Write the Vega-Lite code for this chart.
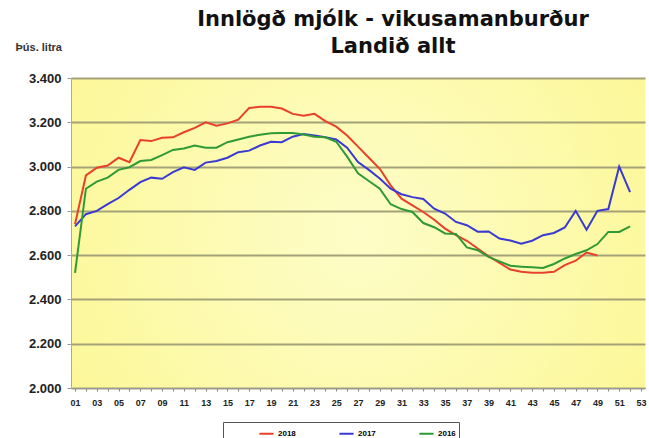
{
  "$schema": "https://vega.github.io/schema/vega-lite/v6.json",
  "width": 574,
  "height": 310,
  "autosize": {"type": "none"},
  "padding": {"left": 71, "top": 78, "right": 4, "bottom": 50},
  "background": "white",
  "title": {
    "text": ["Innlögð mjólk - vikusamanburður", "Landið allt"],
    "font": "DejaVu Sans",
    "fontSize": 21,
    "fontWeight": "bold",
    "color": "#111",
    "anchor": "middle",
    "dx": 35,
    "dy": 34,
    "offset": 18,
    "lineHeight": 27
  },
  "config": {
    "view": {
      "stroke": null,
      "fill": {
        "gradient": "radial",
        "x1": 0.5, "y1": 0.5, "x2": 0.5, "y2": 0.5, "r1": 0, "r2": 0.75,
        "stops": [{"offset": 0, "color": "#FEFDC8"}, {"offset": 1, "color": "#FBF68A"}]
      }
    }
  },
  "data": {
    "values": [
      {"w":1,"yr":"2018","v":2740},{"w":2,"yr":"2018","v":2960},{"w":3,"yr":"2018","v":2995},{"w":4,"yr":"2018","v":3005},{"w":5,"yr":"2018","v":3040},{"w":6,"yr":"2018","v":3020},{"w":7,"yr":"2018","v":3120},{"w":8,"yr":"2018","v":3115},{"w":9,"yr":"2018","v":3130},{"w":10,"yr":"2018","v":3132},
      {"w":11,"yr":"2018","v":3155},{"w":12,"yr":"2018","v":3175},{"w":13,"yr":"2018","v":3200},{"w":14,"yr":"2018","v":3185},{"w":15,"yr":"2018","v":3195},{"w":16,"yr":"2018","v":3212},{"w":17,"yr":"2018","v":3265},{"w":18,"yr":"2018","v":3270},{"w":19,"yr":"2018","v":3270},{"w":20,"yr":"2018","v":3262},
      {"w":21,"yr":"2018","v":3238},{"w":22,"yr":"2018","v":3230},{"w":23,"yr":"2018","v":3238},{"w":24,"yr":"2018","v":3205},{"w":25,"yr":"2018","v":3180},{"w":26,"yr":"2018","v":3140},{"w":27,"yr":"2018","v":3090},{"w":28,"yr":"2018","v":3040},{"w":29,"yr":"2018","v":2990},{"w":30,"yr":"2018","v":2915},
      {"w":31,"yr":"2018","v":2855},{"w":32,"yr":"2018","v":2825},{"w":33,"yr":"2018","v":2795},{"w":34,"yr":"2018","v":2760},{"w":35,"yr":"2018","v":2720},{"w":36,"yr":"2018","v":2690},{"w":37,"yr":"2018","v":2665},{"w":38,"yr":"2018","v":2630},{"w":39,"yr":"2018","v":2595},{"w":40,"yr":"2018","v":2565},
      {"w":41,"yr":"2018","v":2535},{"w":42,"yr":"2018","v":2525},{"w":43,"yr":"2018","v":2520},{"w":44,"yr":"2018","v":2520},{"w":45,"yr":"2018","v":2525},{"w":46,"yr":"2018","v":2555},{"w":47,"yr":"2018","v":2575},{"w":48,"yr":"2018","v":2612},{"w":49,"yr":"2018","v":2598},

      {"w":1,"yr":"2017","v":2730},{"w":2,"yr":"2017","v":2785},{"w":3,"yr":"2017","v":2800},{"w":4,"yr":"2017","v":2830},{"w":5,"yr":"2017","v":2858},{"w":6,"yr":"2017","v":2895},{"w":7,"yr":"2017","v":2930},{"w":8,"yr":"2017","v":2950},{"w":9,"yr":"2017","v":2945},{"w":10,"yr":"2017","v":2975},
      {"w":11,"yr":"2017","v":2997},{"w":12,"yr":"2017","v":2985},{"w":13,"yr":"2017","v":3018},{"w":14,"yr":"2017","v":3025},{"w":15,"yr":"2017","v":3040},{"w":16,"yr":"2017","v":3065},{"w":17,"yr":"2017","v":3072},{"w":18,"yr":"2017","v":3095},{"w":19,"yr":"2017","v":3112},{"w":20,"yr":"2017","v":3110},
      {"w":21,"yr":"2017","v":3135},{"w":22,"yr":"2017","v":3147},{"w":23,"yr":"2017","v":3140},{"w":24,"yr":"2017","v":3132},{"w":25,"yr":"2017","v":3122},{"w":26,"yr":"2017","v":3085},{"w":27,"yr":"2017","v":3020},{"w":28,"yr":"2017","v":2985},{"w":29,"yr":"2017","v":2946},{"w":30,"yr":"2017","v":2900},
      {"w":31,"yr":"2017","v":2875},{"w":32,"yr":"2017","v":2862},{"w":33,"yr":"2017","v":2854},{"w":34,"yr":"2017","v":2810},{"w":35,"yr":"2017","v":2788},{"w":36,"yr":"2017","v":2750},{"w":37,"yr":"2017","v":2735},{"w":38,"yr":"2017","v":2706},{"w":39,"yr":"2017","v":2707},{"w":40,"yr":"2017","v":2675},
      {"w":41,"yr":"2017","v":2666},{"w":42,"yr":"2017","v":2652},{"w":43,"yr":"2017","v":2665},{"w":44,"yr":"2017","v":2690},{"w":45,"yr":"2017","v":2700},{"w":46,"yr":"2017","v":2725},{"w":47,"yr":"2017","v":2800},{"w":48,"yr":"2017","v":2715},{"w":49,"yr":"2017","v":2800},{"w":50,"yr":"2017","v":2808},
      {"w":51,"yr":"2017","v":3000},{"w":52,"yr":"2017","v":2885},

      {"w":1,"yr":"2016","v":2520},{"w":2,"yr":"2016","v":2900},{"w":3,"yr":"2016","v":2932},{"w":4,"yr":"2016","v":2950},{"w":5,"yr":"2016","v":2985},{"w":6,"yr":"2016","v":2997},{"w":7,"yr":"2016","v":3025},{"w":8,"yr":"2016","v":3030},{"w":9,"yr":"2016","v":3052},{"w":10,"yr":"2016","v":3075},
      {"w":11,"yr":"2016","v":3082},{"w":12,"yr":"2016","v":3095},{"w":13,"yr":"2016","v":3085},{"w":14,"yr":"2016","v":3085},{"w":15,"yr":"2016","v":3110},{"w":16,"yr":"2016","v":3122},{"w":17,"yr":"2016","v":3135},{"w":18,"yr":"2016","v":3144},{"w":19,"yr":"2016","v":3150},{"w":20,"yr":"2016","v":3152},
      {"w":21,"yr":"2016","v":3152},{"w":22,"yr":"2016","v":3145},{"w":23,"yr":"2016","v":3135},{"w":24,"yr":"2016","v":3132},{"w":25,"yr":"2016","v":3112},{"w":26,"yr":"2016","v":3045},{"w":27,"yr":"2016","v":2970},{"w":28,"yr":"2016","v":2935},{"w":29,"yr":"2016","v":2900},{"w":30,"yr":"2016","v":2830},
      {"w":31,"yr":"2016","v":2808},{"w":32,"yr":"2016","v":2795},{"w":33,"yr":"2016","v":2745},{"w":34,"yr":"2016","v":2726},{"w":35,"yr":"2016","v":2698},{"w":36,"yr":"2016","v":2696},{"w":37,"yr":"2016","v":2635},{"w":38,"yr":"2016","v":2622},{"w":39,"yr":"2016","v":2592},{"w":40,"yr":"2016","v":2572},
      {"w":41,"yr":"2016","v":2552},{"w":42,"yr":"2016","v":2548},{"w":43,"yr":"2016","v":2545},{"w":44,"yr":"2016","v":2542},{"w":45,"yr":"2016","v":2560},{"w":46,"yr":"2016","v":2585},{"w":47,"yr":"2016","v":2605},{"w":48,"yr":"2016","v":2622},{"w":49,"yr":"2016","v":2650},{"w":50,"yr":"2016","v":2705},
      {"w":51,"yr":"2016","v":2705},{"w":52,"yr":"2016","v":2730}
    ]
  },
  "mark": {"type": "line", "strokeWidth": 2, "interpolate": "linear"},
  "encoding": {
    "x": {
      "field": "w",
      "type": "quantitative",
      "scale": {"domain": [0.63, 53.37], "nice": false, "zero": false},
      "axis": {
        "title": null,
        "values": [1,2,3,4,5,6,7,8,9,10,11,12,13,14,15,16,17,18,19,20,21,22,23,24,25,26,27,28,29,30,31,32,33,34,35,36,37,38,39,40,41,42,43,44,45,46,47,48,49,50,51,52,53],
        "labelExpr": "datum.value % 2 == 1 ? (datum.value < 10 ? '0' + datum.value : '' + datum.value) : ''",
        "grid": false,
        "tickSize": 3,
        "tickColor": "#888",
        "domainColor": "#999",
        "labelFont": "Liberation Sans",
        "labelFontSize": 9,
        "labelFontWeight": "bold",
        "labelColor": "#222",
        "labelPadding": 7,
        "labelOverlap": false
      }
    },
    "y": {
      "field": "v",
      "type": "quantitative",
      "scale": {"domain": [2000, 3400], "nice": false, "zero": false},
      "axis": {
        "title": "Þús. litra",
        "titleAngle": 0,
        "titleAlign": "left",
        "titleBaseline": "middle",
        "titleX": -56,
        "titleY": -31,
        "titleFont": "Liberation Sans",
        "titleFontSize": 11,
        "titleFontWeight": "bold",
        "titleColor": "#333",
        "values": [2000,2200,2400,2600,2800,3000,3200,3400],
        "labelExpr": "replace(format(datum.value, ','), ',', '.')",
        "labelFont": "Liberation Sans",
        "labelFontSize": 13,
        "labelFontWeight": "bold",
        "labelColor": "#222",
        "labelPadding": 6,
        "grid": true,
        "gridColor": "#a3a278",
        "gridWidth": 2,
        "tickSize": 4,
        "tickColor": "#999",
        "domainColor": "#aaa"
      }
    },
    "color": {
      "field": "yr",
      "type": "nominal",
      "scale": {"domain": ["2018", "2017", "2016"], "range": ["#e8402a", "#3a3ad2", "#2f9a35"]},
      "legend": {
        "title": null,
        "orient": "none",
        "legendX": 152,
        "legendY": 344,
        "direction": "horizontal",
        "symbolType": "stroke",
        "symbolStrokeWidth": 2,
        "symbolSize": 200,
        "symbolOffset": 32,
        "labelOffset": 3,
        "labelFont": "Liberation Sans",
        "labelFontSize": 8,
        "labelFontWeight": "bold",
        "labelExpr": "datum.label == '2016' ? '2016             ' : datum.label",
        "columnPadding": 10,
        "strokeColor": "#555",
        "fillColor": "white",
        "padding": 3
      }
    }
  }
}
